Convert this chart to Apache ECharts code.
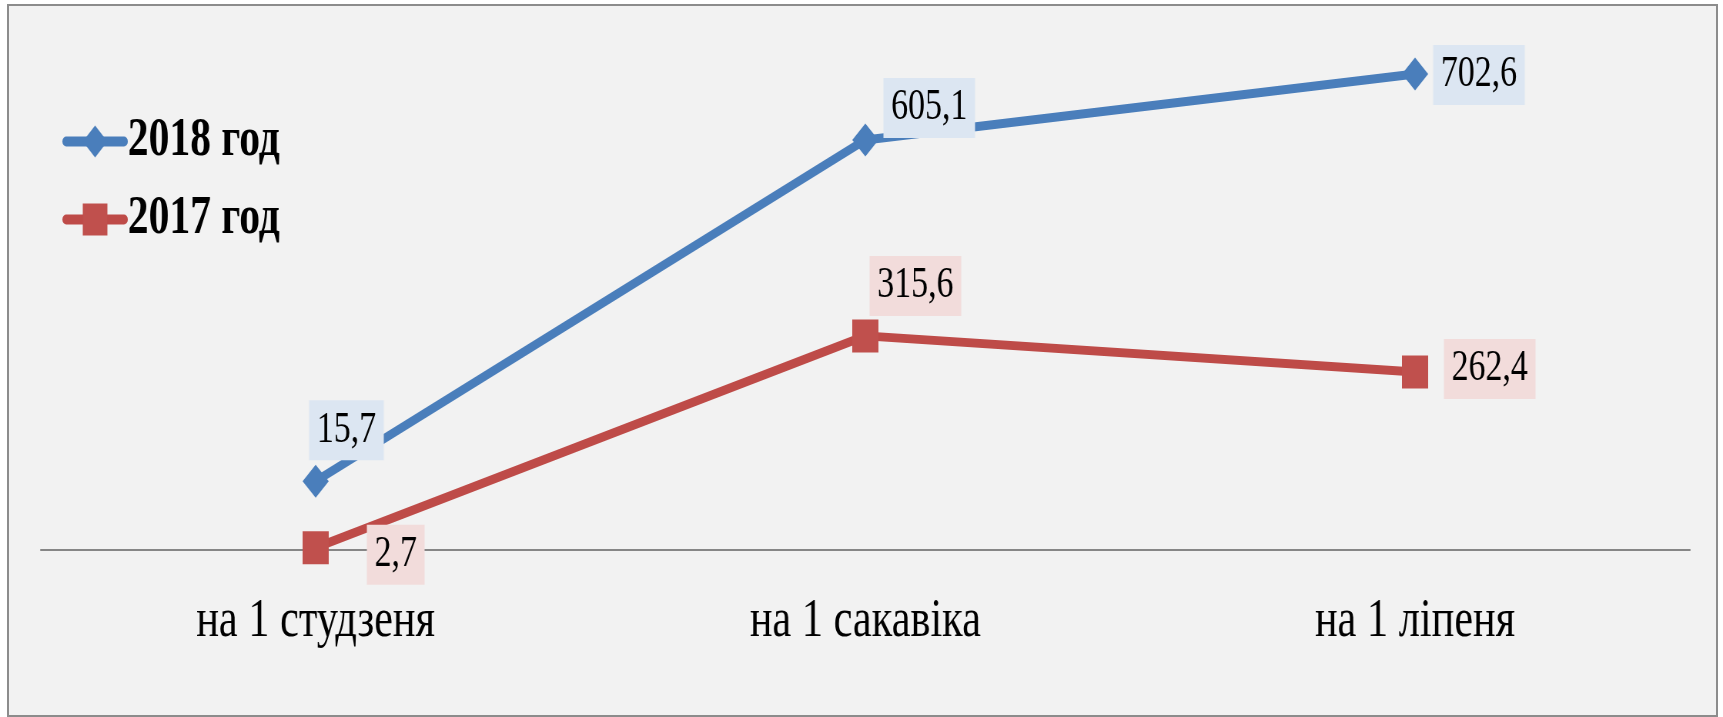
<!DOCTYPE html>
<html>
<head>
<meta charset="utf-8">
<script src="https://cdn.jsdelivr.net/npm/echarts@6/dist/echarts.min.js"></script>
<style>
  html, body { margin: 0; padding: 0; background: #ffffff; width: 1723px; height: 717px; overflow: hidden; }
  #frame { position: absolute; left: 7px; top: 4px; width: 1711px; height: 713px; box-sizing: border-box;
           border: 2px solid #8c8c8c; background: #f2f2f2; }
  #chart { position: absolute; left: 0; top: 0; width: 2238px; height: 717px;
           transform: scaleX(0.76988); transform-origin: 0 0; }
</style>
</head>
<body>
<div id="frame"></div>
<div id="chart"></div>
<script>
// ---- data ----
const categories = ['на 1 студзеня', 'на 1 сакавіка', 'на 1 ліпеня'];
const seriesNames = ['2018 год', '2017 год'];
// plotted values (first 2018 point sits at ~101 in the picture)
const values2018 = [101, 605.1, 702.6];
const labels2018 = ['15,7', '605,1', '702,6'];
const values2017 = [2.7, 315.6, 262.4];
const labels2017 = ['2,7', '315,6', '262,4'];

// ---- styling ----
const blue = '#4A7EBB', red = '#BE4B48';
const off2018 = [[40, -51], [83, -32], [83, 1]];
const off2017 = [[104, 7], [65, -50], [97, -3]];

function labelStyle(bg) {
  return {
    show: true, position: 'inside', align: 'center', verticalAlign: 'middle',
    fontFamily: 'Liberation Serif, Times New Roman, serif', fontSize: 44, lineHeight: 44,
    color: '#000', backgroundColor: bg, padding: [8, 10]
  };
}

const chart = echarts.init(document.getElementById('chart'), null, { renderer: 'canvas' });
chart.setOption({
  animation: false,
  backgroundColor: 'transparent',
  grid: { left: 53, right: 43, top: 8, bottom: 167.5 },
  legend: {
    orient: 'vertical', left: 76, top: 109,
    itemWidth: 75, itemHeight: 40, itemGap: 23,
    data: seriesNames,
    lineStyle: { width: 10, cap: 'round' },
    textStyle: { fontFamily: 'Liberation Serif, Times New Roman, serif', fontWeight: 'bold',
                 fontSize: 54, lineHeight: 55, color: '#000' }
  },
  xAxis: {
    type: 'category', data: categories, boundaryGap: true,
    axisLine: { show: true, lineStyle: { color: '#868686', width: 2 } },
    axisTick: { show: false },
    axisLabel: { fontFamily: 'Liberation Serif, Times New Roman, serif', fontSize: 55, lineHeight: 55,
                 color: '#000', margin: 45 },
    splitLine: { show: false }
  },
  yAxis: { type: 'value', min: 0, max: 800, show: false, splitLine: { show: false } },
  series: [
    {
      name: seriesNames[0], type: 'line', symbol: 'diamond', symbolSize: [34, 33],
      color: blue,
      lineStyle: { color: blue, width: 9, cap: 'round' },
      itemStyle: { color: blue },
      label: Object.assign(labelStyle('#DCE6F2'), { formatter: p => labels2018[p.dataIndex] }),
      data: values2018.map((v, i) => ({ value: v, label: { offset: off2018[i] } }))
    },
    {
      name: seriesNames[1], type: 'line', symbol: 'rect', symbolSize: [34, 33],
      color: red,
      lineStyle: { color: red, width: 9, cap: 'round' },
      itemStyle: { color: '#C0504D' },
      label: Object.assign(labelStyle('#F2DCDB'), { formatter: p => labels2017[p.dataIndex] }),
      data: values2017.map((v, i) => ({ value: v, label: { offset: off2017[i] } }))
    }
  ]
});
</script>
</body>
</html>
